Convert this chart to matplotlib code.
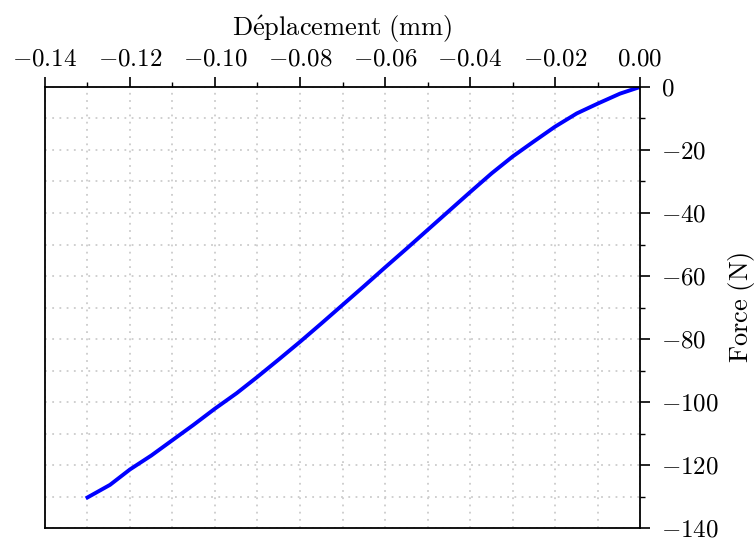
import matplotlib
matplotlib.use("Agg")
import matplotlib.pyplot as plt
from matplotlib.ticker import MultipleLocator, FormatStrFormatter

plt.rcParams['font.family'] = 'serif'
plt.rcParams['font.serif'] = ['cmr10']
plt.rcParams['mathtext.fontset'] = 'cm'
plt.rcParams['axes.formatter.use_mathtext'] = True

# displacement (mm) / force (N)
deplacement = [0.0, -0.0047, -0.01, -0.0149, -0.02, -0.0251, -0.03, -0.0349,
               -0.04, -0.045, -0.05, -0.055, -0.06, -0.065, -0.07, -0.075,
               -0.08, -0.085, -0.09, -0.0949, -0.10, -0.1051, -0.11, -0.115,
               -0.12, -0.1247, -0.13]
force = [0.0, -2.1, -5.3, -8.4, -12.6, -17.4, -22.1, -27.4,
         -33.4, -39.4, -45.4, -51.4, -57.3, -63.3, -69.2, -75.1,
         -80.9, -86.5, -92.0, -97.2, -102.1, -107.3, -112.1, -117.0,
         -121.4, -126.3, -130.3]

fig = plt.figure(figsize=(7.56, 5.4), dpi=100)
ax = fig.add_axes([0.0595, 0.0222, 0.7871, 0.8167])

ax.plot(deplacement, force, color='#0000ff', linewidth=2.8)

ax.set_xlim(-0.14, 0.0)
ax.set_ylim(-140, 0)

ax.xaxis.tick_top()
ax.xaxis.set_label_position('top')
ax.yaxis.tick_right()
ax.yaxis.set_label_position('right')

ax.xaxis.set_major_locator(MultipleLocator(0.02))
ax.xaxis.set_minor_locator(MultipleLocator(0.01))
ax.yaxis.set_major_locator(MultipleLocator(20))
ax.yaxis.set_minor_locator(MultipleLocator(10))
ax.xaxis.set_major_formatter(FormatStrFormatter('$%.2f$'))
ax.yaxis.set_major_formatter(FormatStrFormatter('$%d$'))

ax.tick_params(which='major', direction='out', length=7, width=1.2, labelsize=18)
ax.tick_params(which='minor', direction='out', length=3.5, width=1.0)
ax.tick_params(axis='y', which='major', pad=8)
ax.tick_params(axis='x', which='major', pad=5)
for s in ax.spines.values():
    s.set_linewidth(1.3)

ax.grid(True, which='both', linestyle=(0, (1, 3)), color='#cccccc', linewidth=1.3)
ax.set_axisbelow(True)

ax.set_xlabel(r'$\mathrm{D\acute{e}placement\ (mm)}$', fontsize=19, labelpad=9)
ax.set_ylabel(r'$\mathrm{Force\ (N)}$', fontsize=19, labelpad=5)

fig.savefig('out.png', dpi=100)
